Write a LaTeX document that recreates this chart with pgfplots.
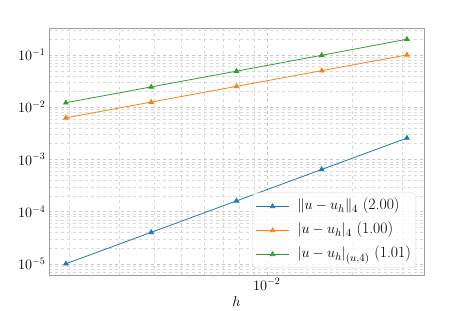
\documentclass[border=0pt]{standalone}
\usepackage{pgfplots}
\pgfplotsset{compat=1.18}
\definecolor{tabblue}{HTML}{1F77B4}
\definecolor{taborange}{HTML}{FF7F0E}
\definecolor{tabgreen}{HTML}{2CA02C}
\begin{document}
\begin{tikzpicture}
\begin{axis}[
  at={(0,0)}, anchor=south west,
  scale only axis,
  width=375bp, height=247bp,
  xmode=log, ymode=log,
  xmin=0.0017017, xmax=0.035892,
  ymin=6.0954e-6, ymax=0.32810,
  ytick={1e-5,1e-4,1e-3,1e-2,1e-1},
  minor ytick={7e-6,8e-6,9e-6,2e-5,3e-5,4e-5,5e-5,6e-5,7e-5,8e-5,9e-5,2e-4,3e-4,4e-4,5e-4,6e-4,7e-4,8e-4,9e-4,2e-3,3e-3,4e-3,5e-3,6e-3,7e-3,8e-3,9e-3,2e-2,3e-2,4e-2,5e-2,6e-2,7e-2,8e-2,9e-2,2e-1,3e-1},
  xtick={1e-2},
  minor xtick={2e-3,3e-3,4e-3,5e-3,6e-3,7e-3,8e-3,9e-3,2e-2,3e-2},
  grid=both,
  major grid style={gray!45, dashed, line width=0.4pt},
  minor grid style={gray!30, dashed, line width=0.3pt},
  axis line style={gray!75, line width=0.7pt},
  major tick length=0pt, minor tick length=0pt,
  tick label style={font=\fontsize{14bp}{16bp}\selectfont},
  label style={font=\fontsize{14bp}{16bp}\selectfont},
  xlabel={$h$},
  legend style={font=\fontsize{15.7bp}{19bp}\selectfont,
    at={(0.979,0.028)}, anchor=south east,
    draw=gray!30, rounded corners=3bp, fill=white, fill opacity=0.8, text opacity=1,
    row sep=3bp, column sep=6bp, inner xsep=3bp, inner ysep=3bp,
    nodes={text height=12bp, text depth=5bp}},
  legend cell align=left,
  legend image code/.code={\draw[mark repeat=2,mark phase=2] plot coordinates {(0bp,0bp)(16.5bp,0bp)(33bp,0bp)};},
  every axis plot/.append style={line width=0.8pt, mark=triangle*, mark size=2.6pt},
]
\addplot[tabblue, mark options={fill=tabblue}] coordinates {
 (0.001953125,1.0e-5) (0.00390625,4.0e-5) (0.0078125,1.6e-4) (0.015625,6.4e-4) (0.03125,2.56e-3)};
\addlegendentry{$\|u-u_h\|_4$ (2.00)}
\addplot[taborange, mark options={fill=taborange}] coordinates {
 (0.001953125,6.25e-3) (0.00390625,1.25e-2) (0.0078125,2.5e-2) (0.015625,5.0e-2) (0.03125,1.0e-1)};
\addlegendentry{$|u-u_h|_4$ (1.00)}
\addplot[tabgreen, mark options={fill=tabgreen}] coordinates {
 (0.001953125,1.216e-2) (0.00390625,2.44e-2) (0.0078125,4.89e-2) (0.015625,9.85e-2) (0.03125,2.0e-1)};
\addlegendentry{$|u-u_h|_{(u,4)}$ (1.01)}
\end{axis}
\pgfresetboundingbox
\path (-49bp,-36bp) rectangle (408bp,275bp);
\end{tikzpicture}
\end{document}
